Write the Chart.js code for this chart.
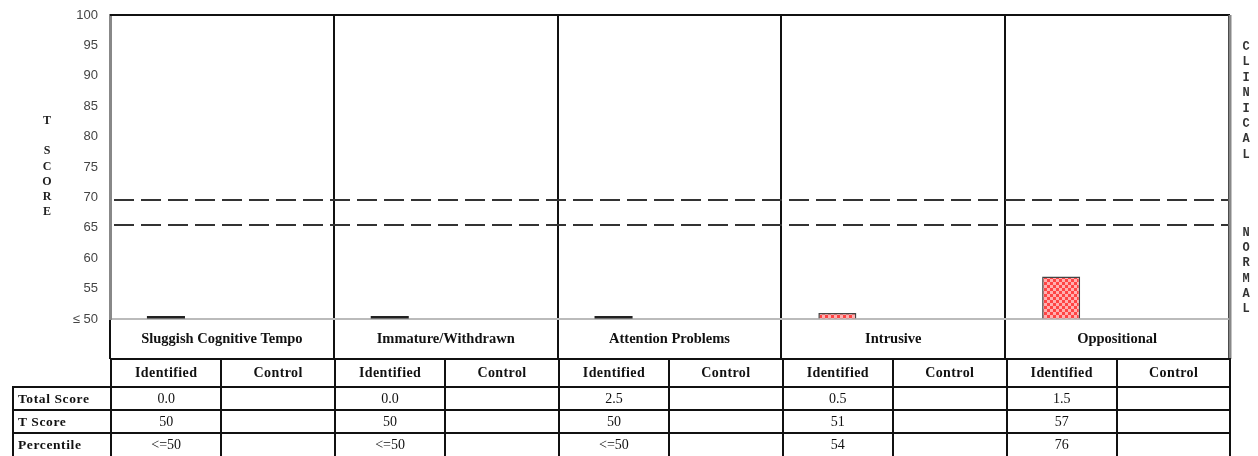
<!DOCTYPE html>
<html>
<head>
<meta charset="utf-8">
<script src="https://cdn.jsdelivr.net/npm/chart.js@4.4.1/dist/chart.umd.min.js"></script>
<style>
  html, body { margin: 0; padding: 0; background: #fff; width: 1258px; height: 456px; overflow: hidden; }
  #wrap { position: absolute; left: 0; top: 0; width: 1258px; height: 360px; }
  .side { position: absolute; text-align: center; }
  .side span { position: absolute; left: 0; width: 100%; }
  #yTitle { left: 37px; width: 20px; font: bold 12px "Liberation Serif", serif; color: #222; }
  #clin, #norm { left: 1237px; width: 18px; font: bold 12px "Liberation Mono", monospace; color: #333; }
  #stats { position: absolute; left: 12px; top: 358px; border-collapse: collapse; table-layout: fixed; width: 1217px; }
  #stats td, #stats th { border: 2px solid #111; padding: 0; text-align: center; font: 14px "Liberation Serif", serif; color: #111; overflow: hidden; white-space: nowrap; }
  #stats th { font-weight: bold; letter-spacing: 0.4px; }
  #stats tr.head th { height: 26px; font-size: 14px; }
  #stats tr.head td.blank { border: none; }
  #stats th.rowlab { text-align: left; padding-left: 4px; font-size: 13.5px; letter-spacing: 0.6px; }
  #stats tr.r1 td, #stats tr.r1 th { height: 21px; }
  #stats tr.r2 td, #stats tr.r2 th { height: 21px; }
  #stats tr.r3 td, #stats tr.r3 th { height: 22px; }
</style>
</head>
<body>
<div id="wrap"><canvas id="chart" width="1258" height="360"></canvas></div>
<div id="yTitle" class="side"></div>
<div id="clin" class="side"></div>
<div id="norm" class="side"></div>
<table id="stats"></table>

<script>
// donnees du graphe
const categories = ['Sluggish Cognitive Tempo', 'Immature/Withdrawn', 'Attention Problems', 'Intrusive', 'Oppositional'];
const groups = ['Identified', 'Control'];
const identifiedTScore = [50, 50, 50, 51, 57];
const controlTScore = [null, null, null, null, null];
const identifiedTotal = ['0.0', '0.0', '2.5', '0.5', '1.5'];
const identifiedPercentile = ['<=50', '<=50', '<=50', '54', '76'];
const yTickValues = [50, 55, 60, 65, 70, 75, 80, 85, 90, 95, 100];
const yTickLabels = ['\u2264 50', '55', '60', '65', '70', '75', '80', '85', '90', '95', '100'];
const cutoffLines = [69.5, 65.5];
const rowNames = ['Total Score', 'T Score', 'Percentile'];

// motif rouge en damier pour les barres
function makePattern() {
    const c = document.createElement('canvas');
    c.width = 6; c.height = 6;
    const g = c.getContext('2d');
    g.fillStyle = '#fff';
    g.fillRect(0, 0, 6, 6);
    g.fillStyle = '#ff4444';
    g.fillRect(0, 0, 3, 3);
    g.fillRect(3, 3, 3, 3);
    g.fillStyle = '#ffb0b0';
    g.fillRect(3, 0, 3, 3);
    g.fillRect(0, 3, 3, 3);
    return g.createPattern(c, 'repeat');
}
const redPattern = makePattern();

// lignes pointillees + cadre
const framePlugin = {
    id: 'frame',
    afterDatasetsDraw(chart) {
        const { ctx, chartArea: a, scales: { y } } = chart;
        ctx.save();
        ctx.strokeStyle = '#333';
        ctx.lineWidth = 2;
        ctx.setLineDash([20, 7]);
        cutoffLines.forEach(v => {
            const py = Math.round(y.getPixelForValue(v));
            ctx.beginPath();
            ctx.moveTo(a.left + 4, py);
            ctx.lineTo(a.right, py);
            ctx.stroke();
        });
        ctx.setLineDash([]);
        ctx.strokeStyle = '#111';
        ctx.beginPath();
        ctx.moveTo(a.left, a.top);
        ctx.lineTo(a.right + 1, a.top);
        ctx.stroke();
        ctx.strokeStyle = '#888';
        ctx.lineWidth = 3;
        ctx.beginPath();
        ctx.moveTo(a.right + 1, a.top);
        ctx.lineTo(a.right + 1, a.bottom + 40);
        ctx.stroke();
        ctx.restore();
    }
};

const ctx = document.getElementById('chart').getContext('2d');
new Chart(ctx, {
    type: 'bar',
    data: {
        labels: categories,
        datasets: [{
            label: groups[0],
            data: identifiedTScore,
            base: yTickValues[0],
            backgroundColor: c => (c.raw > 50 ? redPattern : '#222'),
            borderColor: '#444',
            borderWidth: c => (c.raw > 50 ? 1.5 : 0),
            minBarLength: 3
        }, {
            label: groups[1],
            data: controlTScore,
            base: yTickValues[0]
        }]
    },
    options: {
        responsive: false,
        animation: false,
        categoryPercentage: 1,
        barPercentage: 0.34,
        layout: { padding: { top: 15, right: 29, left: 0, bottom: 0 } },
        plugins: { legend: { display: false }, tooltip: { enabled: false } },
        scales: {
            x: {
                afterFit: s => { s.height = 41; },
                grid: { offset: true, color: '#111', lineWidth: 2, tickLength: 40, drawOnChartArea: true },
                border: { color: '#bbb', width: 2 },
                ticks: {
                    padding: -28,
                    color: '#111',
                    font: { family: '"Liberation Serif", serif', size: 14.5, weight: 'bold' }
                }
            },
            y: {
                min: 50,
                max: 100,
                afterFit: s => { s.width = 110; s.paddingTop = 0; s.paddingBottom = 0; },
                afterBuildTicks: s => { s.ticks = yTickValues.map(v => ({ value: v })); },
                grid: { drawOnChartArea: false, drawTicks: false },
                border: { color: '#888', width: 3 },
                ticks: {
                    padding: 12,
                    color: '#444',
                    font: { family: '"Liberation Sans", Arial, sans-serif', size: 13 },
                    callback: (v, i) => yTickLabels[i]
                }
            }
        }
    },
    plugins: [framePlugin]
});

// textes verticaux
function stackLetters(id, text, top, step) {
    const el = document.getElementById(id);
    el.style.top = top + 'px';
    let n = 0;
    [...text].forEach(ch => {
        if (ch !== ' ') {
            const s = document.createElement('span');
            s.textContent = ch;
            s.style.top = (n * step) + 'px';
            el.appendChild(s);
        }
        n++;
    });
}
stackLetters('yTitle', 'T SCORE', 113, 15.2);
stackLetters('clin', 'CLINICAL', 40, 15.4);
stackLetters('norm', 'NORMAL', 226, 15.2);

// tableau sous le graphe
const table = document.getElementById('stats');
let html = '<colgroup><col style="width:98px">';
categories.forEach(() => { html += '<col style="width:110.4px"><col style="width:113.5px">'; });
html += '</colgroup><tr class="head"><td class="blank"></td>';
categories.forEach(() => { html += '<th>' + groups[0] + '</th><th>' + groups[1] + '</th>'; });
html += '</tr>';
const rows = [identifiedTotal, identifiedTScore.map(String), identifiedPercentile];
rows.forEach((vals, r) => {
    html += '<tr class="r' + (r + 1) + '"><th class="rowlab">' + rowNames[r] + '</th>';
    vals.forEach(v => { html += '<td>' + v + '</td><td></td>'; });
    html += '</tr>';
});
table.innerHTML = html;
</script>
</body>
</html>
